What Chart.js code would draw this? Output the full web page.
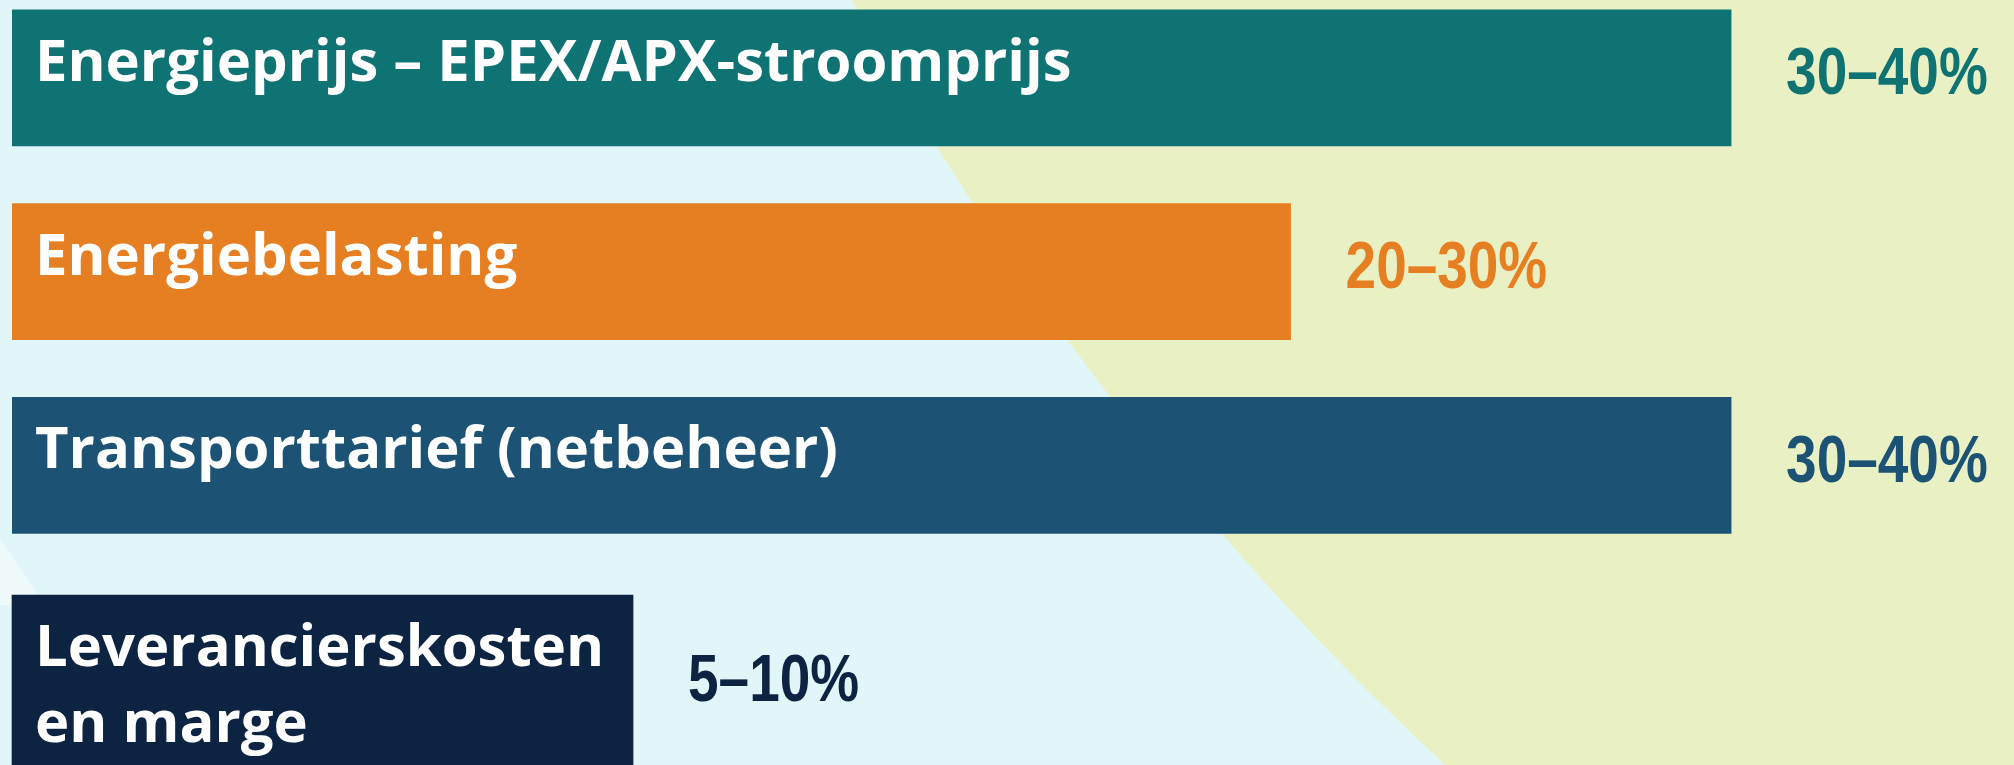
<!DOCTYPE html>
<html>
<head>
<meta charset="utf-8">
<script src="https://cdn.jsdelivr.net/npm/chart.js@4/dist/chart.umd.min.js"></script>
<style>
  html, body { margin: 0; padding: 0; overflow: hidden; background: #e0f6f8; }
  #wrap { position: absolute; left: 0; top: -19px; width: 2014px; height: 800px; }
</style>
</head>
<body>
<div id="wrap"><canvas id="chart" width="2014" height="800"></canvas></div>
<script>
const ctx = document.getElementById("chart");

// categories (multi-line label = array)
const categories = [
  "Energieprijs – EPEX/APX-stroomprijs",
  "Energiebelasting",
  "Transporttarief (netbeheer)",
  ["Leverancierskosten", "en marge"]
];
// bar lengths as drawn in the picture (share of total, %)
const barLengths = [40, 29.75, 40, 14.45];
// range labels next to the bars
const rangeLabels = ["30–40%", "20–30%", "30–40%", "5–10%"];
const barColors = ["#0f7374", "#e67f22", "#1c5375", "#0c2342"];

const SHIFT = 19; // canvas sits 19px above the page top

// one-line bars on the normal axis, the two-line bar on its own axis
const isTall = categories.map((c) => Array.isArray(c));
const shortData = barLengths.map((v, i) => (isTall[i] ? null : v));
const tallData = barLengths.map((v, i) => (isTall[i] ? v : null));

const backgroundPlugin = {
  id: "bg",
  beforeDraw(chart) {
    const c = chart.ctx;
    c.save();
    c.fillStyle = "#e0f6f8";
    c.fillRect(0, 0, chart.width, chart.height);
    // big pale green circle on the right
    c.fillStyle = "#e9f1c4";
    c.beginPath();
    c.arc(3496, -1438 + SHIFT, 3010, 0, Math.PI * 2);
    c.fill();
    // light sliver bottom left
    c.fillStyle = "#eef9fa";
    c.beginPath();
    c.moveTo(0, 538 + SHIFT);
    c.lineTo(45, 605 + SHIFT);
    c.lineTo(0, 605 + SHIFT);
    c.closePath();
    c.fill();
    c.restore();
  }
};

const labelPlugin = {
  id: "barText",
  afterDatasetsDraw(chart) {
    const c = chart.ctx;
    chart.data.datasets.forEach((ds, di) => {
      const meta = chart.getDatasetMeta(di);
      meta.data.forEach((el, i) => {
        if (ds.data[i] == null) return;
        const lines = [].concat(categories[i]);
        const top = el.y - el.height / 2;
        const left = Math.min(el.base, el.x);
        c.save();
        c.fillStyle = "#ffffff";
        c.font = "700 58px 'Open Sans'";
        c.textAlign = "left";
        c.textBaseline = "alphabetic";
        lines.forEach((t, k) => {
          c.fillText(t, left + 23, top + 71 + k * 76);
        });
        // narrow bold figures next to the bar
        c.fillStyle = barColors[i];
        c.font = "700 67px 'Liberation Sans'";
        c.textBaseline = "middle";
        c.translate(el.x + 55, top + 66 + 22 * (lines.length - 1));
        c.scale(0.82, 1);
        c.fillText(rangeLabels[i], 0, 0);
        c.restore();
      });
    });
  }
};

new Chart(ctx, {
  type: "bar",
  data: {
    labels: categories,
    datasets: [
      {
        data: shortData,
        backgroundColor: barColors,
        borderWidth: 0,
        barThickness: 136,
        maxBarThickness: 136,
        grouped: false,
        yAxisID: "y"
      },
      {
        data: tallData,
        backgroundColor: barColors,
        borderWidth: 0,
        barThickness: 322,
        maxBarThickness: 322,
        grouped: false,
        clip: false,
        yAxisID: "y2"
      }
    ]
  },
  options: {
    indexAxis: "y",
    responsive: false,
    animation: false,
    layout: { padding: { left: 12, right: 68, top: 0, bottom: 25 } },
    scales: {
      x: { min: 0, max: 45, display: false },
      y: { type: "category", offset: true, display: false },
      y2: { type: "category", offset: false, min: 1, max: 3, display: false }
    },
    plugins: {
      legend: { display: false },
      tooltip: { enabled: false }
    }
  },
  plugins: [backgroundPlugin, labelPlugin]
});
</script>
</body>
</html>
